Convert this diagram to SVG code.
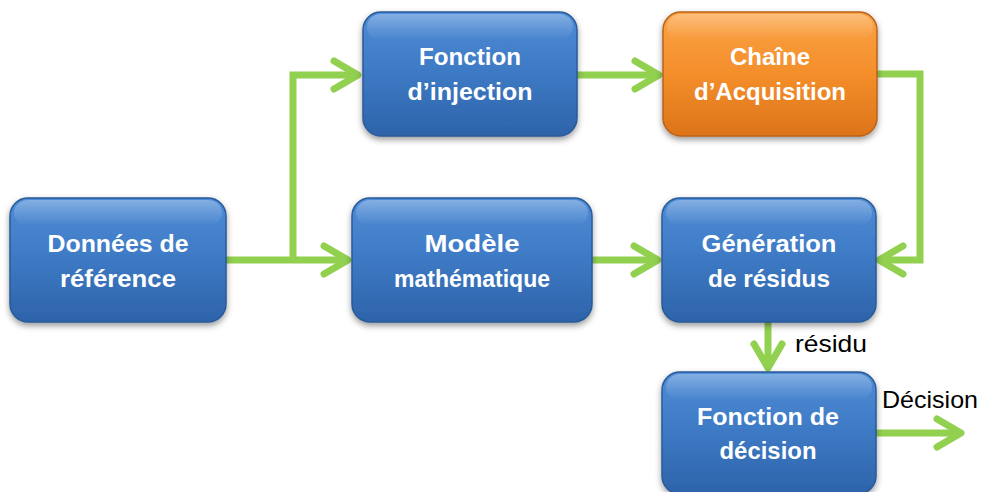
<svg xmlns="http://www.w3.org/2000/svg" width="982" height="492" viewBox="0 0 982 492">
<defs>
<linearGradient id="gBlue" x1="0" y1="0" x2="0" y2="1">
<stop offset="0" stop-color="#4f8cd6"/>
<stop offset="0.5" stop-color="#3d79c4"/>
<stop offset="1" stop-color="#2d63a9"/>
</linearGradient>
<linearGradient id="gOrange" x1="0" y1="0" x2="0" y2="1">
<stop offset="0" stop-color="#fba345"/>
<stop offset="0.5" stop-color="#f48e2b"/>
<stop offset="1" stop-color="#dc7418"/>
</linearGradient>
<linearGradient id="gGloss" x1="0" y1="0" x2="0" y2="1">
<stop offset="0" stop-color="#ffffff" stop-opacity="0.3"/>
<stop offset="1" stop-color="#ffffff" stop-opacity="0"/>
</linearGradient>
<filter id="shadow" x="-10%" y="-10%" width="120%" height="130%">
<feDropShadow dx="0" dy="3" stdDeviation="3" flood-color="#000" flood-opacity="0.4"/>
</filter>
</defs>
<style>
.box{fill:url(#gBlue);stroke:#2a5a98;stroke-width:1.5;filter:url(#shadow)}
.box.orange{fill:url(#gOrange);stroke:#b9621b}
.gloss{fill:url(#gGloss)}
.lbl{font-family:"Liberation Sans",Arial,sans-serif;font-weight:bold;font-size:24px;fill:#ffffff;text-anchor:middle}
.edge{fill:none;stroke:#92d050;stroke-width:7;stroke-linecap:round;stroke-linejoin:round}
.line{fill:none;stroke:#92d050;stroke-width:7;stroke-linejoin:miter}
.elbl{font-family:"Liberation Sans",Arial,sans-serif;font-size:24px;fill:#000000}
</style>

<g id="connectors">
<polyline class="line" points="226,260 346,260"/>
<polyline class="line" points="293,260 293,75 356,75"/>
<polyline class="line" points="577,75 657,75"/>
<polyline class="line" points="877,74 920,74 920,260 882,260"/>
<polyline class="line" points="592,260 656,260"/>
<polyline class="line" points="768,322 768,366"/>
<polyline class="line" points="876,433 959,433"/>
<polyline class="edge" points="324,246 348,260 324,274"/>
<polyline class="edge" points="334,61 358,75 334,89"/>
<polyline class="edge" points="635,61 659,75 635,89"/>
<polyline class="edge" points="903,246 879,260 903,274"/>
<polyline class="edge" points="634,246 658,260 634,274"/>
<polyline class="edge" points="754,344 768,368 782,344"/>
<polyline class="edge" points="937,419 961,433 937,447"/>
<text class="elbl" x="795" y="352" textLength="72" lengthAdjust="spacingAndGlyphs">résidu</text>
<text class="elbl" x="882" y="408" textLength="96" lengthAdjust="spacingAndGlyphs">Décision</text>
</g>

<g id="donnees">
<rect class="box" x="10" y="198" width="216" height="124" rx="18"/>
<rect class="gloss" x="14" y="200" width="208" height="26" rx="14"/>
<text class="lbl" x="118" y="252" textLength="141" lengthAdjust="spacingAndGlyphs">Données de</text>
<text class="lbl" x="118" y="287" textLength="116" lengthAdjust="spacingAndGlyphs">référence</text>
</g>

<g id="injection">
<rect class="box" x="363" y="12" width="214" height="124" rx="18"/>
<rect class="gloss" x="367" y="14" width="206" height="26" rx="14"/>
<text class="lbl" x="470" y="65" textLength="102" lengthAdjust="spacingAndGlyphs">Fonction</text>
<text class="lbl" x="470" y="100" textLength="125" lengthAdjust="spacingAndGlyphs">d’injection</text>
</g>

<g id="acquisition">
<rect class="box orange" x="663" y="12" width="214" height="124" rx="18"/>
<rect class="gloss" x="667" y="14" width="206" height="26" rx="14"/>
<text class="lbl" x="770" y="65" textLength="80" lengthAdjust="spacingAndGlyphs">Chaîne</text>
<text class="lbl" x="770" y="100" textLength="152" lengthAdjust="spacingAndGlyphs">d’Acquisition</text>
</g>

<g id="modele">
<rect class="box" x="352" y="198" width="240" height="124" rx="18"/>
<rect class="gloss" x="356" y="200" width="232" height="26" rx="14"/>
<text class="lbl" x="472" y="252" textLength="95" lengthAdjust="spacingAndGlyphs">Modèle</text>
<text class="lbl" x="472" y="287" textLength="156" lengthAdjust="spacingAndGlyphs">mathématique</text>
</g>

<g id="generation">
<rect class="box" x="662" y="198" width="214" height="124" rx="18"/>
<rect class="gloss" x="666" y="200" width="206" height="26" rx="14"/>
<text class="lbl" x="769" y="252" textLength="135" lengthAdjust="spacingAndGlyphs">Génération</text>
<text class="lbl" x="769" y="287" textLength="122" lengthAdjust="spacingAndGlyphs">de résidus</text>
</g>

<g id="decision">
<rect class="box" x="662" y="372" width="214" height="122" rx="18"/>
<rect class="gloss" x="666" y="374" width="206" height="26" rx="14"/>
<text class="lbl" x="768" y="425" textLength="142" lengthAdjust="spacingAndGlyphs">Fonction de</text>
<text class="lbl" x="768" y="459" textLength="97" lengthAdjust="spacingAndGlyphs">décision</text>
</g>
</svg>
